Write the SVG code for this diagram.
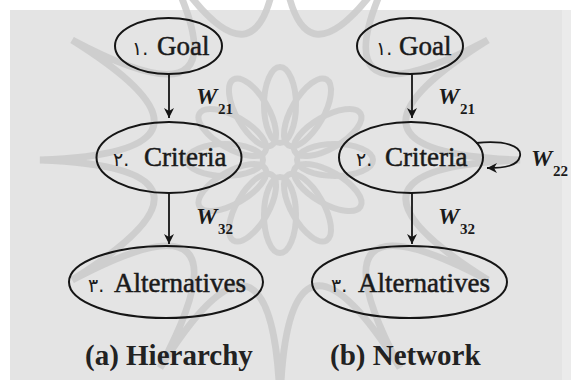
<svg xmlns="http://www.w3.org/2000/svg" width="571" height="380" viewBox="0 0 571 380">
<style>
.node ellipse{fill:none;stroke:#151515;stroke-width:2}
.lbl{font-family:"Liberation Serif","Times New Roman",serif;font-size:27px;fill:#1a1a1a;stroke:#1a1a1a;stroke-width:0.5}
.num{font-family:"DejaVu Sans","Noto Sans",sans-serif;font-size:19px;fill:#1a1a1a}
.w{font-family:"Liberation Serif","Times New Roman",serif;font-size:24px;font-weight:bold;font-style:italic;fill:#1a1a1a}
.sub{font-family:"Liberation Serif","Times New Roman",serif;font-size:15px;font-weight:bold;fill:#1a1a1a}
.cap{font-family:"Liberation Serif","Times New Roman",serif;font-size:29px;font-weight:bold;fill:#222}
.edge{fill:none;stroke:#151515;stroke-width:1.8}
.wm{fill:none;stroke:#c9c9c9;stroke-width:7}
</style>
<defs>
<marker id="ah" markerUnits="userSpaceOnUse" markerWidth="12" markerHeight="12" refX="10" refY="5" orient="auto">
<path d="M0,0 L10,5 L0,10 L3,5 z" fill="#151515"/>
</marker>
<ellipse id="petal" cx="0" cy="-55" rx="16" ry="38"/>
</defs>
<rect x="0" y="0" width="571" height="380" fill="#ffffff"/>
<rect x="10" y="10" width="561" height="370" fill="#e4e4e4"/>
<rect x="562" y="10" width="9" height="370" fill="#ebebeb"/>
<g id="watermark" opacity="0.8">
<path class="wm" d="M280,-80 Q287.8,131 400,-47.8 Q301.2,138.8 487.8,40 Q309,152.2 520,160 Q309,167.8 487.8,280 Q301.2,181.2 400,367.8 Q287.8,189 280,400 Q272.2,189 160,367.8 Q258.8,181.2 72.2,280 Q251,167.8 40,160 Q251,152.2 72.2,40 Q258.8,138.8 160,-47.8 Q272.2,131 280,-80 z"/>
<g fill="none" stroke="#cbcbcb" stroke-width="6" transform="translate(280,160)">
<use href="#petal"/><use href="#petal" transform="rotate(30)"/><use href="#petal" transform="rotate(60)"/><use href="#petal" transform="rotate(90)"/>
<use href="#petal" transform="rotate(120)"/><use href="#petal" transform="rotate(150)"/><use href="#petal" transform="rotate(180)"/><use href="#petal" transform="rotate(210)"/>
<use href="#petal" transform="rotate(240)"/><use href="#petal" transform="rotate(270)"/><use href="#petal" transform="rotate(300)"/><use href="#petal" transform="rotate(330)"/>
</g>
</g>
<g id="connectors">
<line class="edge" x1="169" y1="74" x2="169" y2="118" marker-end="url(#ah)"/>
<line class="edge" x1="169" y1="193" x2="169" y2="244" marker-end="url(#ah)"/>
<line class="edge" x1="412" y1="74" x2="412" y2="118" marker-end="url(#ah)"/>
<line class="edge" x1="412" y1="193" x2="412" y2="244" marker-end="url(#ah)"/>
<path class="edge" d="M476,143 C505,140 522,146 520,156 C518,166 505,168 487,168" marker-end="url(#ah)"/>
<text class="w" x="196" y="104">W</text><text class="sub" x="218" y="114">21</text>
<text class="w" x="196" y="224">W</text><text class="sub" x="218" y="234">32</text>
<text class="w" x="438" y="104">W</text><text class="sub" x="460" y="114">21</text>
<text class="w" x="438" y="224">W</text><text class="sub" x="460" y="234">32</text>
<text class="w" x="531" y="166">W</text><text class="sub" x="553" y="176">22</text>
</g>
<g id="a-goal" class="node">
<ellipse cx="168.5" cy="46" rx="53.5" ry="28"/>
<text class="num" x="132" y="55">۱.</text><text class="lbl" x="157" y="55">Goal</text>
</g>
<g id="a-criteria" class="node">
<ellipse cx="169" cy="157.5" rx="72.5" ry="35.5"/>
<text class="num" x="113" y="166">۲.</text><text class="lbl" x="144" y="166">Criteria</text>
</g>
<g id="a-alternatives" class="node">
<ellipse cx="166" cy="282" rx="97" ry="36"/>
<text class="num" x="88" y="292">۳.</text><text class="lbl" x="114" y="292">Alternatives</text>
</g>
<g id="b-goal" class="node">
<ellipse cx="410" cy="46" rx="53" ry="28"/>
<text class="num" x="376" y="55">۱.</text><text class="lbl" x="399" y="55">Goal</text>
</g>
<g id="b-criteria" class="node">
<ellipse cx="411" cy="157.5" rx="72" ry="35.5"/>
<text class="num" x="356" y="166">۲.</text><text class="lbl" x="385" y="166">Criteria</text>
</g>
<g id="b-alternatives" class="node">
<ellipse cx="409.5" cy="282" rx="97.5" ry="36"/>
<text class="num" x="331" y="292">۳.</text><text class="lbl" x="358" y="292">Alternatives</text>
</g>
<text class="cap" x="85" y="365">(a) Hierarchy</text>
<text class="cap" x="330" y="365">(b) Network</text>
</svg>
